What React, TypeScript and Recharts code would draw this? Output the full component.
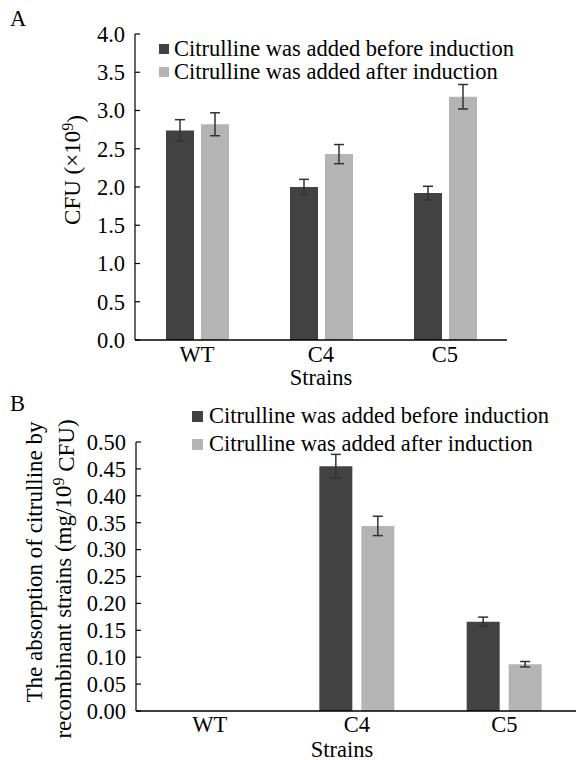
import React from "react";
import { BarChart, Bar, XAxis, YAxis, ErrorBar, Legend, Label } from "recharts";

// strains on the x axis
const strains = ["WT", "C4", "C5"];

// panel A: CFU (x10^9)
const cfuBefore = [2.74, 2.0, 1.92];
const cfuBeforeErr = [0.14, 0.1, 0.09];
const cfuAfter = [2.82, 2.43, 3.18];
const cfuAfterErr = [0.15, 0.125, 0.16];
const cfuTicks = [0, 0.5, 1, 1.5, 2, 2.5, 3, 3.5, 4];

// panel B: citrulline absorption (mg/10^9 CFU)
const absBefore = [0, 0.455, 0.166];
const absBeforeErr = [0, 0.022, 0.0085];
const absAfter = [0, 0.344, 0.087];
const absAfterErr = [0, 0.018, 0.005];
const absTicks = [0, 0.05, 0.1, 0.15, 0.2, 0.25, 0.3, 0.35, 0.4, 0.45, 0.5];

const seriesNames = [
    "Citrulline was added before induction",
    "Citrulline was added after induction",
];

const FONT = '"Liberation Serif", "Times New Roman", serif';
const FS = 22.5;
const DARK = "#424242";
const LIGHT = "#b4b4b4";
const ERR = "#333333";

const cfuData = strains.map((s, i) => ({
    strain: s,
    before: cfuBefore[i],
    beforeErr: cfuBeforeErr[i],
    after: cfuAfter[i],
    afterErr: cfuAfterErr[i],
}));

const absData = strains.map((s, i) => ({
    strain: s,
    before: absBefore[i],
    beforeErr: absBeforeErr[i],
    after: absAfter[i],
    afterErr: absAfterErr[i],
}));

function YTick(props: any) {
    const { x, y, payload, digits } = props;
    return (
        <g>
            <line x1={x} x2={x + 5} y1={y} y2={y} stroke="#000" strokeWidth={1.2} />
            <text
                x={x - 10}
                y={y}
                dy="0.35em"
                textAnchor="end"
                fontFamily={FONT}
                fontSize={FS}
                fill="#000"
            >
                {Number(payload.value).toFixed(digits)}
            </text>
        </g>
    );
}

function LegendRows(props: any) {
    const { payload, rowH, box, gap } = props;
    // keep the "before" series first, like the reference
    const rows = [...(payload || [])].sort(
        (a: any, b: any) => seriesNames.indexOf(a.value) - seriesNames.indexOf(b.value)
    );
    return (
        <div style={{ fontFamily: FONT, fontSize: FS, color: "#000" }}>
            {rows.map((p: any) => (
                <div
                    key={p.value}
                    style={{ display: "flex", alignItems: "center", height: rowH, whiteSpace: "nowrap" }}
                >
                    <span
                        style={{
                            display: "inline-block",
                            width: box,
                            height: box,
                            background: p.color,
                            marginRight: gap,
                        }}
                    />
                    <span style={{ lineHeight: 1 }}>{p.value}</span>
                </div>
            ))}
        </div>
    );
}

const axisTick = { fontFamily: FONT, fontSize: FS, fill: "#000" };

export default function App() {
    return (
        <div
            style={{
                position: "absolute",
                top: 0,
                left: 0,
                width: 576,
                height: 760,
                overflow: "hidden",
                background: "#fff",
                fontFamily: FONT,
            }}
        >
            <div style={{ position: "absolute", left: 10, top: 6, fontSize: FS }}>A</div>
            <div style={{ position: "absolute", left: 10, top: 391, fontSize: FS }}>B</div>

            <div style={{ position: "absolute", top: 0, left: 0 }}>
                <BarChart
                    width={576}
                    height={390}
                    data={cfuData}
                    margin={{ top: 34, right: 69, bottom: 0, left: 0 }}
                    barSize={28}
                    barGap={7}
                >
                    <XAxis
                        dataKey="strain"
                        height={50}
                        axisLine={{ stroke: "#000", strokeWidth: 1.5 }}
                        tickLine={false}
                        tickSize={0}
                        tickMargin={6}
                        tick={axisTick}
                    >
                        <Label
                            content={({ viewBox }: any) => (
                                <text
                                    x={viewBox.x + viewBox.width / 2}
                                    y={viewBox.y + 37}
                                    dy="0.35em"
                                    textAnchor="middle"
                                    fontFamily={FONT}
                                    fontSize={FS}
                                >
                                    Strains
                                </text>
                            )}
                        />
                    </XAxis>
                    <YAxis
                        width={135}
                        domain={[0, 4]}
                        ticks={cfuTicks}
                        interval={0}
                        axisLine={{ stroke: "#000", strokeWidth: 1.2 }}
                        tickLine={false}
                        tickSize={0}
                        tickMargin={0}
                        tick={<YTick digits={1} />}
                    >
                        <Label
                            content={({ viewBox }: any) => (
                                <text
                                    transform={`translate(${viewBox.x + 72}, ${viewBox.y + 136}) rotate(-90)`}
                                    dy="0.35em"
                                    textAnchor="middle"
                                    fontFamily={FONT}
                                    fontSize={23}
                                >
                                    CFU (×10
                                    <tspan dy="-0.45em" fontSize={16}>
                                        9
                                    </tspan>
                                    <tspan dy="0.45em">)</tspan>
                                </text>
                            )}
                        />
                    </YAxis>
                    <Legend
                        layout="vertical"
                        align="center"
                        verticalAlign="middle"
                        wrapperStyle={{ top: 37, left: 159 }}
                        content={<LegendRows rowH={23.5} box={10} gap={5} />}
                    />
                    <Bar dataKey="before" name={seriesNames[0]} fill={DARK} isAnimationActive={false}>
                        <ErrorBar dataKey="beforeErr" width={5} stroke={ERR} strokeWidth={1.5} direction="y" />
                    </Bar>
                    <Bar dataKey="after" name={seriesNames[1]} fill={LIGHT} isAnimationActive={false}>
                        <ErrorBar dataKey="afterErr" width={5} stroke={ERR} strokeWidth={1.5} direction="y" />
                    </Bar>
                </BarChart>
            </div>

            <div style={{ position: "absolute", top: 390, left: 0 }}>
                <BarChart
                    width={580}
                    height={370}
                    data={absData}
                    margin={{ top: 52, right: 2, bottom: 0, left: 0 }}
                    barSize={33}
                    barGap={9}
                >
                    <XAxis
                        dataKey="strain"
                        height={49}
                        axisLine={{ stroke: "#000", strokeWidth: 1.5 }}
                        tickLine={false}
                        tickSize={0}
                        tickMargin={5}
                        tick={axisTick}
                    >
                        <Label
                            content={({ viewBox }: any) => (
                                <text
                                    x={viewBox.x + viewBox.width / 2 - 15}
                                    y={viewBox.y + 38}
                                    dy="0.35em"
                                    textAnchor="middle"
                                    fontFamily={FONT}
                                    fontSize={FS}
                                >
                                    Strains
                                </text>
                            )}
                        />
                    </XAxis>
                    <YAxis
                        width={136}
                        domain={[0, 0.5]}
                        ticks={absTicks}
                        interval={0}
                        axisLine={{ stroke: "#000", strokeWidth: 1.2 }}
                        tickLine={false}
                        tickSize={0}
                        tickMargin={0}
                        tick={<YTick digits={2} />}
                    >
                        <Label
                            content={({ viewBox }: any) => (
                                <g>
                                    <text
                                        transform={`translate(${viewBox.x + 34}, ${viewBox.y + 120}) rotate(-90)`}
                                        dy="0.35em"
                                        textAnchor="middle"
                                        fontFamily={FONT}
                                        fontSize={23}
                                    >
                                        The absorption of citrulline by
                                    </text>
                                    <text
                                        transform={`translate(${viewBox.x + 63}, ${viewBox.y + 137}) rotate(-90)`}
                                        dy="0.35em"
                                        textAnchor="middle"
                                        fontFamily={FONT}
                                        fontSize={23}
                                    >
                                        recombinant strains (mg/10
                                        <tspan dy="-0.45em" fontSize={16}>
                                            9
                                        </tspan>
                                        <tspan dy="0.45em"> CFU)</tspan>
                                    </text>
                                </g>
                            )}
                        />
                    </YAxis>
                    <Legend
                        layout="vertical"
                        align="center"
                        verticalAlign="middle"
                        wrapperStyle={{ top: 12, left: 192 }}
                        content={<LegendRows rowH={28} box={11} gap={6} />}
                    />
                    <Bar dataKey="before" name={seriesNames[0]} fill={DARK} isAnimationActive={false}>
                        <ErrorBar dataKey="beforeErr" width={5} stroke={ERR} strokeWidth={1.5} direction="y" />
                    </Bar>
                    <Bar dataKey="after" name={seriesNames[1]} fill={LIGHT} isAnimationActive={false}>
                        <ErrorBar dataKey="afterErr" width={5} stroke={ERR} strokeWidth={1.5} direction="y" />
                    </Bar>
                </BarChart>
            </div>
        </div>
    );
}
